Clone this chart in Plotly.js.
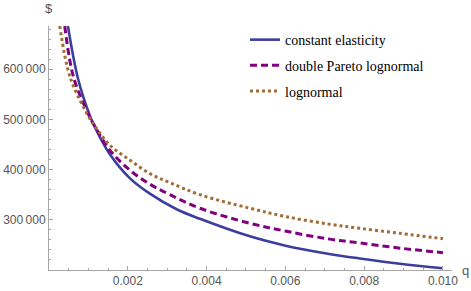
<!DOCTYPE html>
<html>
<head>
<meta charset="utf-8">
<script src="https://cdn.plot.ly/plotly-3.0.1.min.js"></script>
<style>html,body{margin:0;padding:0;background:#fff;}#chart{width:471px;height:291px;}</style>
</head>
<body>
<div id="chart"></div>
<script>
// Series
var seriesNames = ["constant elasticity", "double Pareto lognormal", "lognormal"];

var qConst = [0.00048, 0.00074, 0.00104, 0.00118, 0.00154, 0.00205, 0.00256, 0.00324, 0.00383, 0.0051, 0.00603, 0.00708, 0.00789, 0.00891, 0.0100];
var pConst = [686000, 580000, 507000, 482000, 431000, 383000, 352000, 321000, 302000, 267000, 248000, 232500, 223000, 212500, 203500];

var qDpln = [0.00040, 0.00063, 0.00104, 0.00118, 0.00154, 0.00205, 0.00256, 0.00307, 0.00383, 0.0051, 0.00603, 0.00708, 0.00789, 0.00891, 0.0100];
var pDpln = [686000, 582000, 504000, 484000, 439000, 399000, 371000, 350000, 323000, 293000, 277000, 262000, 254000, 243500, 234500];

var qLogn = [0.000273, 0.000545, 0.00104, 0.00118, 0.00154, 0.00205, 0.00256, 0.00307, 0.00383, 0.0051, 0.00603, 0.00708, 0.00789, 0.00891, 0.0100];
var pLogn = [686000, 582000, 501000, 485000, 449000, 419000, 392000, 374000, 350000, 323000, 306000, 291700, 283000, 273000, 262400];

var xTickVals = [0.002, 0.004, 0.006, 0.008, 0.010];
var xTickText = ["0.002", "0.004", "0.006", "0.008", "0.010"];
var yTickVals = [300000, 400000, 500000, 600000];
var yTickText = ["300\u2009000", "400\u2009000", "500\u2009000", "600\u2009000"];

var axisGray = "#a6a6a6";
var labelGray = "#555555";

var traces = [
  {x: qConst, y: pConst, name: seriesNames[0], legendgroup: "a", mode: "lines",
   line: {color: "#3d3d9e", width: 2.6, shape: "spline", smoothing: 1}},
  {x: qDpln, y: pDpln, name: seriesNames[1], legendgroup: "b", mode: "lines",
   line: {color: "#800080", width: 3, dash: "7px,4px", shape: "spline", smoothing: 1}},
  {x: qLogn, y: pLogn, name: seriesNames[2], legendgroup: "c", mode: "lines",
   line: {color: "#a36b35", width: 3, dash: "3px,3px", shape: "spline", smoothing: 1}}
];

var layout = {
  width: 471, height: 291,
  margin: {l: 49, r: 19, t: 26, b: 21},
  paper_bgcolor: "#fff", plot_bgcolor: "#fff",
  showlegend: true,
  legend: {x: 0.4864, xref: "paper", y: 1.008, yref: "paper", yanchor: "top", xanchor: "left",
    bgcolor: "rgba(0,0,0,0)", traceorder: "grouped", tracegroupgap: 4.5,
    font: {family: "Liberation Serif", size: 14, color: "#000"}},
  xaxis: {range: [0, 0.01023], showgrid: false, zeroline: false, showline: true,
    linecolor: axisGray, linewidth: 1, ticks: "inside", ticklen: 4, tickcolor: axisGray,
    tickmode: "array", tickvals: xTickVals, ticktext: xTickText,
    tickfont: {family: "Liberation Sans", size: 12, color: labelGray},
    minor: {tickmode: "linear", tick0: 0, dtick: 0.0005, ticks: "inside", ticklen: 2, tickcolor: axisGray, showgrid: false}},
  yaxis: {range: [200000, 686000], showgrid: false, zeroline: false, showline: true,
    linecolor: axisGray, linewidth: 1, ticks: "inside", ticklen: 4, tickcolor: axisGray,
    tickmode: "array", tickvals: yTickVals, ticktext: yTickText,
    tickfont: {family: "Liberation Sans", size: 12, color: labelGray},
    minor: {tickmode: "linear", tick0: 0, dtick: 20000, ticks: "inside", ticklen: 2, tickcolor: axisGray, showgrid: false}},
  annotations: [
    {text: "$", xref: "paper", yref: "paper", x: 0, y: 1, xanchor: "center", yanchor: "middle",
     yshift: 18, showarrow: false, font: {family: "Liberation Sans", size: 13, color: labelGray}},
    {text: "q", xref: "paper", yref: "paper", x: 1, y: 0, xanchor: "center", yanchor: "middle",
     xshift: 13, yshift: 0, showarrow: false, font: {family: "Liberation Sans", size: 13, color: labelGray}}
  ]
};

Plotly.newPlot("chart", traces, layout, {displayModeBar: false, staticPlot: true});
</script>
</body>
</html>
